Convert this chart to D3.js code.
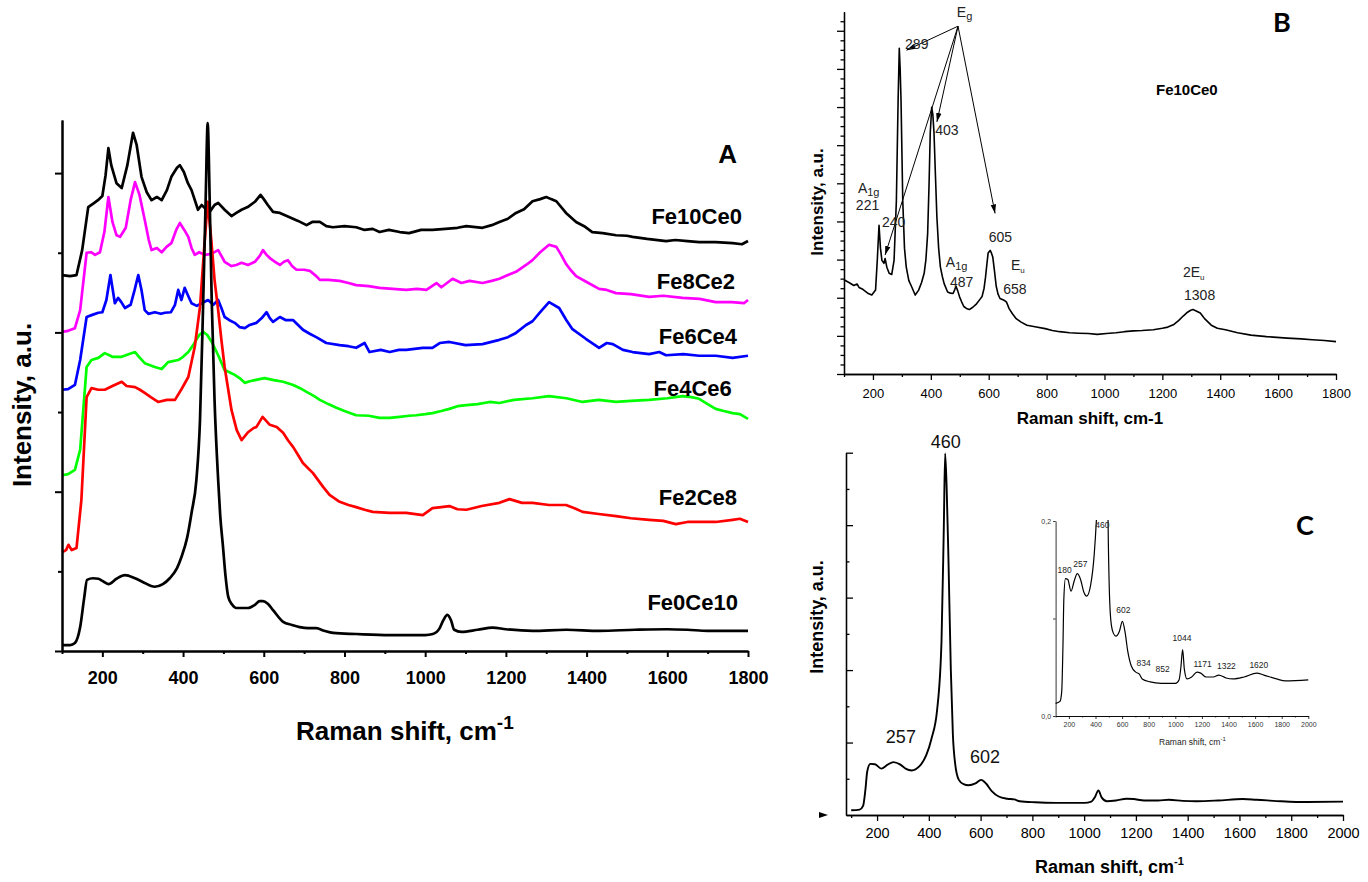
<!DOCTYPE html>
<html>
<head>
<meta charset="utf-8">
<script src="https://cdn.jsdelivr.net/npm/d3@7"></script>
<style>
body { margin: 0; background: #fff; }
svg { display: block; font-family: "Liberation Sans", Arial, sans-serif; }
</style>
</head>
<body>
<svg id="fig" width="1368" height="882"></svg>
<script>
// ---- panel A spectra: [Raman shift, intensity a.u.] ----
var fe10ce0 = [[100,70.8],[120,70.6],[136,70.8],[150,75.5],[165,83.6],[180,84.4],[189,84.9],[200,85.7],[208,89.6],[215,94.7],[222,91.5],[235,88.1],[248,87.2],[262,91.5],[276,97.6],[285,95.3],[297,89.3],[310,86.4],[322,84.9],[335,85.5],[347,84.9],[360,86.8],[371,89.3],[385,91.0],[392,91.5],[402,90.2],[412,88.1],[421,86.8],[437,83.1],[446,84.0],[454,83.4],[466,82.7],[478,84.0],[487,84.4],[503,83.1],[520,81.9],[532,82.5],[545,83.1],[560,83.6],[578,84.6],[592,85.9],[600,85.1],[610,84.0],[623,82.7],[640,82.5],[664,81.7],[685,81.0],[706,80.2],[720,80.8],[739,80.8],[755,80.0],[771,79.8],[800,80.0],[829,79.8],[850,79.3],[870,79.5],[887,78.9],[910,79.3],[937,78.9],[960,78.7],[990,79.3],[1018,79.3],[1050,79.5],[1080,79.7],[1102,80.0],[1142,79.7],[1165,80.2],[1184,80.8],[1205,81.4],[1225,82.5],[1245,83.2],[1266,84.7],[1285,85.1],[1300,85.5],[1312,85.1],[1325,84.7],[1349,82.5],[1374,80.8],[1394,80.0],[1414,78.9],[1440,78.7],[1473,78.3],[1500,78.2],[1514,78.0],[1550,77.6],[1597,77.2],[1620,77.4],[1650,77.2],[1679,77.0],[1720,77.0],[1762,76.8],[1785,76.6],[1800,77.2]];
var fe8ce2 = [[100,60.1],[115,60.3],[132,60.8],[145,64.2],[161,75.0],[172,75.1],[182,74.6],[194,75.1],[205,78.9],[215,85.5],[225,80.8],[235,78.3],[244,78.0],[258,79.7],[270,84.9],[281,88.3],[292,85.9],[305,81.2],[315,77.4],[322,75.5],[335,75.9],[347,75.1],[359,76.1],[371,76.8],[383,79.3],[392,80.6],[403,79.3],[413,78.0],[421,75.9],[429,74.6],[440,75.1],[454,74.6],[470,74.8],[487,75.5],[503,73.3],[520,72.5],[532,72.7],[545,73.1],[561,72.7],[578,73.3],[590,74.4],[598,75.5],[607,74.6],[615,74.0],[628,73.3],[640,72.7],[650,73.3],[660,73.6],[670,72.5],[681,71.8],[700,71.8],[714,71.6],[730,70.6],[739,69.9],[760,69.9],[788,69.7],[810,69.3],[829,68.9],[860,68.7],[887,68.4],[920,68.2],[953,68.0],[980,68.2],[1003,68.0],[1028,69.3],[1040,68.5],[1068,70.1],[1090,69.3],[1110,69.7],[1142,69.3],[1165,69.7],[1184,70.1],[1205,70.8],[1225,71.4],[1250,72.7],[1266,73.6],[1285,75.1],[1307,76.5],[1325,76.1],[1337,74.6],[1349,72.9],[1360,71.8],[1374,70.6],[1400,69.5],[1431,68.2],[1450,68.0],[1473,67.4],[1510,67.2],[1555,66.7],[1590,66.9],[1638,66.5],[1680,66.3],[1720,65.7],[1760,65.7],[1790,65.5],[1800,66.1]];
var fe6ce4 = [[100,49.2],[115,49.3],[132,50.1],[145,54.8],[161,62.9],[175,63.3],[190,63.7],[200,63.8],[210,66.1],[220,70.8],[231,65.5],[239,66.5],[247,65.7],[256,64.6],[270,65.2],[280,68.0],[289,70.8],[297,68.0],[305,64.2],[314,63.5],[330,63.8],[345,63.5],[355,63.7],[370,63.8],[380,65.2],[388,68.0],[396,66.1],[404,68.4],[412,67.0],[421,65.5],[434,65.0],[446,65.5],[462,66.1],[475,65.2],[487,66.1],[495,64.6],[503,62.9],[515,62.3],[528,61.8],[540,61.0],[553,60.8],[565,61.4],[582,61.8],[595,62.7],[607,63.8],[615,62.7],[623,62.0],[640,62.9],[655,62.3],[673,62.3],[685,61.4],[697,60.5],[715,59.7],[730,59.1],[755,58.0],[788,57.6],[810,57.4],[829,57.1],[850,58.0],[862,56.3],[890,56.7],[912,56.3],[935,56.7],[953,56.7],[994,57.1],[1018,57.1],[1036,58.0],[1060,58.2],[1100,57.6],[1142,57.8],[1184,58.6],[1205,59.1],[1225,59.9],[1250,61.4],[1266,62.1],[1285,63.8],[1307,65.7],[1332,64.6],[1350,62.3],[1365,60.6],[1398,58.8],[1431,57.1],[1450,58.0],[1465,57.8],[1490,56.7],[1514,56.3],[1555,55.9],[1580,56.3],[1597,55.7],[1640,55.9],[1679,55.6],[1720,55.6],[1762,55.2],[1800,55.6]];
var fe4ce6 = [[100,33.1],[115,33.3],[132,34.1],[145,37.9],[161,53.5],[173,54.8],[190,55.2],[206,56.1],[225,55.4],[248,55.4],[265,55.9],[281,56.3],[293,55.2],[305,54.2],[330,53.5],[347,53.1],[363,54.4],[388,54.8],[400,55.4],[413,56.3],[425,57.6],[440,59.5],[450,60.1],[460,59.5],[471,58.2],[487,55.7],[503,52.9],[515,52.5],[528,52.0],[540,51.4],[553,50.5],[565,50.8],[578,51.0],[602,51.4],[625,51.0],[648,50.7],[673,50.1],[690,49.5],[706,48.8],[725,48.0],[739,47.3],[760,46.5],[780,45.8],[800,45.2],[829,44.4],[860,44.3],[887,43.9],[912,43.9],[937,44.1],[960,44.3],[978,44.4],[1000,44.6],[1018,44.8],[1040,45.2],[1060,45.6],[1080,46.1],[1102,46.3],[1130,46.5],[1160,46.9],[1184,46.7],[1220,47.3],[1266,47.6],[1307,48.0],[1350,47.6],[1390,46.9],[1430,47.3],[1473,46.9],[1510,47.1],[1555,47.3],[1600,47.6],[1638,48.0],[1660,47.8],[1679,47.5],[1700,46.5],[1720,45.6],[1740,45.2],[1762,44.8],[1780,44.6],[1800,43.7]];
var fe2ce8 = [[100,18.6],[110,19.0],[116,20.0],[124,19.0],[136,19.4],[148,28.4],[161,47.8],[173,49.5],[190,49.2],[206,49.2],[225,49.9],[248,50.7],[260,49.9],[281,49.7],[293,49.2],[305,48.6],[320,47.8],[338,46.9],[360,47.3],[380,47.3],[396,49.3],[413,51.6],[429,57.3],[442,64.8],[452,75.5],[461,84.6],[470,77.4],[478,69.9],[487,64.2],[495,58.6],[503,53.5],[520,45.4],[533,41.6],[545,39.7],[561,41.2],[575,42.0],[582,42.2],[597,44.1],[615,42.6],[632,42.2],[648,41.1],[660,39.7],[673,38.4],[685,36.9],[697,35.4],[722,33.5],[747,30.9],[763,29.4],[788,28.1],[810,27.5],[829,27.1],[850,26.6],[870,26.2],[912,26.0],[953,26.0],[994,25.6],[1018,26.9],[1040,27.1],[1060,27.3],[1080,26.7],[1102,26.6],[1140,27.3],[1184,27.9],[1209,28.6],[1240,27.9],[1266,27.9],[1307,27.5],[1349,27.5],[1370,26.9],[1390,26.2],[1430,25.8],[1473,25.4],[1510,25.0],[1555,24.7],[1590,24.5],[1621,23.9],[1650,24.3],[1679,24.3],[1720,24.3],[1762,24.7],[1780,24.9],[1800,24.3]];
var fe0ce10 = [[100,1.1],[120,1.1],[132,1.5],[145,4.5],[155,10.0],[162,13.4],[177,13.7],[190,13.6],[200,13.2],[215,12.6],[235,13.6],[256,14.3],[281,13.7],[300,13.0],[330,12.1],[350,12.6],[367,13.7],[385,15.6],[396,17.7],[410,21.3],[421,26.0],[433,32.2],[442,43.5],[450,66.1],[456,84.9],[461,99.4],[466,84.9],[471,66.1],[478,47.3],[487,32.2],[492,25.6],[499,19.6],[505,14.3],[512,10.2],[522,8.7],[532,8.1],[561,8.1],[578,8.7],[590,9.4],[598,9.4],[610,8.9],[623,7.7],[648,5.5],[670,4.9],[689,4.5],[710,4.3],[730,4.3],[750,3.8],[772,3.4],[829,3.2],[912,3.0],[1000,3.0],[1019,3.2],[1036,4.3],[1045,5.8],[1055,6.8],[1064,5.8],[1072,4.0],[1090,3.6],[1130,4.0],[1167,4.4],[1200,4.1],[1266,3.8],[1350,4.0],[1431,3.8],[1520,4.0],[1600,4.1],[1650,4.0],[1700,3.8],[1800,3.8]];

// ---- panel B: Fe10Ce0 spectrum ----
var bSpectrum = [[100,247],[117,240],[134,232],[145,236],[152,227],[165,222],[184,211],[196,207],[209,220],[215,298],[221,390],[226,330],[231,298],[238,290],[242,303],[248,280],[256,264],[265,261],[273,298],[281,455],[287,719],[291,854],[294,800],[297,719],[303,455],[309,330],[315,281],[324,245],[333,230],[346,207],[358,220],[368,240],[377,264],[383,300],[389,368],[394,500],[398,632],[403,699],[407,680],[411,632],[416,520],[421,411],[427,330],[433,281],[440,255],[446,237],[458,215],[468,212],[477,211],[483,222],[487,230],[493,218],[499,203],[506,190],[514,177],[523,172],[533,169],[545,175],[558,184],[569,195],[577,203],[584,225],[589,254],[594,290],[598,317],[605,324],[609,318],[614,307],[620,270],[626,230],[632,210],[639,198],[651,194],[656,192],[661,189],[665,182],[670,172],[682,158],[695,145],[712,136],[732,128],[760,124],[795,119],[820,114],[845,111],[880,108],[910,107],[944,106],[975,104],[1007,106],[1040,108],[1069,111],[1100,113],[1130,114],[1169,116],[1200,120],[1219,123],[1240,130],[1256,140],[1272,152],[1287,162],[1298,167],[1306,169],[1315,166],[1331,160],[1345,146],[1369,128],[1390,120],[1418,116],[1460,108],[1506,102],[1560,98],[1631,94],[1680,92],[1718,90],[1760,88],[1800,85]];
var bPeakLabels = [["289",311,853],["403",415,626],["221",141,431],["240",231,386],["605",600,347],["487",466,229],["658",650,211],["1308",1275,194]];
var bModeLabels = [["A","1g",148,474],["A","1g",452,281],["E","u",677,273],["2E","u",1271,255],["E","g",490,935]];
var bArrowFrom = [494,912];
var bArrowTo = [[316,849],[242,312],[421,661],[622,421]];

// ---- panel C: Fe0Ce10 spectrum (inset uses the same values) ----
var cSpectrum = [[100,0.013],[133,0.015],[146,0.025],[155,0.07],[162,0.12],[174,0.141],[192,0.140],[216,0.128],[241,0.139],[263,0.146],[290,0.139],[310,0.128],[334,0.123],[363,0.134],[390,0.165],[410,0.21],[432,0.29],[449,0.48],[458,0.80],[463,0.998],[469,0.90],[476,0.70],[485,0.40],[493,0.22],[502,0.14],[516,0.097],[534,0.085],[553,0.082],[580,0.087],[602,0.097],[621,0.087],[643,0.066],[670,0.051],[703,0.045],[730,0.043],[751,0.038],[811,0.035],[893,0.0335],[1001,0.0335],[1028,0.037],[1042,0.05],[1055,0.068],[1068,0.048],[1088,0.038],[1123,0.040],[1164,0.045],[1191,0.044],[1232,0.040],[1286,0.040],[1327,0.042],[1381,0.039],[1435,0.038],[1517,0.040],[1612,0.044],[1666,0.042],[1761,0.038],[1829,0.036],[2000,0.037]];
var cPeakLabels = [["257",234,0.198],["602",559,0.1425]];
var insetLabels = [["180",114,0.147],["257",233,0.1525],["460",398,0.1925],["602",556,0.106],["834",708,0.0513],["852",852,0.0455],["1044",979,0.077],["1171",1137,0.050],["1322",1313,0.048],["1620",1557,0.049]];

var svg = d3.select("#fig");
var sans = "'Liberation Sans', Arial, sans-serif";
var intFmt = d3.format("d");

function drawAxis(g, axis, w) {
    g.call(axis);
    g.attr("font-family", sans).attr("font-size", null);
    g.selectAll("path, line").attr("stroke", "#000").attr("stroke-width", w);
    return g;
}

function makeLine(x, y, curve) {
    return d3.line().x(d => x(d[0])).y(d => y(d[1])).curve(curve || d3.curveLinear);
}

//==================== PANEL A ====================
var xA = d3.scaleLinear().domain([100, 1800]).range([62, 748]);
var yA = d3.scaleLinear().domain([0, 100]).range([651, 120]);
var gA = svg.append("g");

var aSeries = [
    {name: "Fe10Ce0", data: fe10ce0, color: "#000000", lx: 1785, ly: 80.4, curve: d3.curveLinear},
    {name: "Fe8Ce2", data: fe8ce2, color: "#ff00ff", lx: 1768, ly: 68.2, curve: d3.curveLinear},
    {name: "Fe6Ce4", data: fe6ce4, color: "#0000ff", lx: 1773, ly: 57.8, curve: d3.curveLinear},
    {name: "Fe4Ce6", data: fe4ce6, color: "#00ff00", lx: 1760, ly: 48.0, curve: d3.curveLinear},
    {name: "Fe2Ce8", data: fe2ce8, color: "#ff0000", lx: 1773, ly: 27.5, curve: d3.curveLinear},
    {name: "Fe0Ce10", data: fe0ce10, color: "#000000", lx: 1775, ly: 7.7, curve: d3.curveMonotoneX}
];

aSeries.forEach(s => {
    gA.append("path")
        .attr("d", makeLine(xA, yA, s.curve)(s.data))
        .attr("fill", "none")
        .attr("stroke", s.color)
        .attr("stroke-width", 2.7)
        .attr("stroke-linejoin", "round");
    gA.append("text")
        .attr("x", xA(s.lx)).attr("y", yA(s.ly))
        .attr("text-anchor", "end")
        .attr("font-size", 22).attr("font-weight", "bold")
        .text(s.name);
});

drawAxis(gA.append("g").attr("transform", "translate(0,651)"),
    d3.axisBottom(xA).tickValues(d3.range(100, 1801, 200)).tickSize(3).tickSizeOuter(0).tickFormat(""), 2);
drawAxis(gA.append("g").attr("transform", "translate(0,651)"),
    d3.axisBottom(xA).tickValues(d3.range(200, 1801, 200)).tickSize(6).tickSizeOuter(0).tickPadding(14).tickFormat(intFmt), 2)
    .selectAll("text").attr("font-size", 18).attr("font-weight", "bold");
drawAxis(gA.append("g").attr("transform", "translate(62,0)"),
    d3.axisLeft(yA).tickValues([15, 45, 75]).tickSize(4).tickSizeOuter(0).tickFormat(""), 2);
drawAxis(gA.append("g").attr("transform", "translate(62,0)"),
    d3.axisLeft(yA).tickValues([0, 30, 60, 90]).tickSize(7).tickSizeOuter(0).tickFormat(""), 2);

gA.append("text").attr("x", xA(1773)).attr("y", yA(91.9))
    .attr("text-anchor", "end").attr("font-size", 26).attr("font-weight", "bold").text("A");

gA.append("text").attr("transform", "translate(31,405) rotate(-90)")
    .attr("text-anchor", "middle").attr("font-size", 26).attr("font-weight", "bold")
    .text("Intensity, a.u.");

var xlabA = gA.append("text").attr("x", 296).attr("y", 740)
    .attr("font-size", 26).attr("font-weight", "bold");
xlabA.append("tspan").text("Raman shift, cm");
xlabA.append("tspan").attr("dy", -11).attr("font-size", 19).text("-1");

//==================== PANEL B ====================
var xB = d3.scaleLinear().domain([100, 1800]).range([844, 1336]);
var yB = d3.scaleLinear().domain([0, 950]).range([374, 11.7]);
var gB = svg.append("g");

var defs = svg.append("defs");
defs.append("marker").attr("id", "arrow")
    .attr("viewBox", "0 0 10 6").attr("refX", 10).attr("refY", 3)
    .attr("markerWidth", 9).attr("markerHeight", 6)
    .attr("markerUnits", "userSpaceOnUse").attr("orient", "auto")
    .append("path").attr("d", "M0,0 L10,3 L0,6 Z").attr("fill", "#000");

gB.append("path")
    .attr("d", makeLine(xB, yB)(bSpectrum))
    .attr("fill", "none").attr("stroke", "#000").attr("stroke-width", 1.6)
    .attr("stroke-linejoin", "round");

drawAxis(gB.append("g").attr("transform", "translate(0,374)"),
    d3.axisBottom(xB).tickValues(d3.range(100, 1801, 200)).tickSize(3).tickSizeOuter(0).tickFormat(""), 1.3);
drawAxis(gB.append("g").attr("transform", "translate(0,374)"),
    d3.axisBottom(xB).tickValues(d3.range(200, 1801, 200)).tickSize(6).tickSizeOuter(0).tickPadding(9).tickFormat(intFmt), 1.3)
    .selectAll("text").attr("font-size", 13);
drawAxis(gB.append("g").attr("transform", "translate(844,0)"),
    d3.axisLeft(yB).tickValues(d3.range(25, 950, 25).filter(v => v % 100)).tickSize(3.5).tickSizeOuter(0).tickFormat(""), 1.3);
drawAxis(gB.append("g").attr("transform", "translate(844,0)"),
    d3.axisLeft(yB).tickValues(d3.range(0, 901, 100)).tickSize(7).tickSizeOuter(0).tickFormat(""), 1.3);

bArrowTo.forEach(p => {
    gB.append("line")
        .attr("x1", xB(bArrowFrom[0])).attr("y1", yB(bArrowFrom[1]))
        .attr("x2", xB(p[0])).attr("y2", yB(p[1]))
        .attr("stroke", "#000").attr("stroke-width", 1)
        .attr("marker-end", "url(#arrow)");
});

bPeakLabels.forEach(l => {
    gB.append("text").attr("x", xB(l[1])).attr("y", yB(l[2]))
        .attr("font-size", 14).attr("fill", "#222").text(l[0]);
});

bModeLabels.forEach(l => {
    var t = gB.append("text").attr("x", xB(l[2])).attr("y", yB(l[3]))
        .attr("font-size", 14).attr("fill", "#222");
    t.append("tspan").text(l[0]);
    t.append("tspan").attr("dy", 3).attr("font-size", l[1] === "u" ? 8 : 11).text(l[1]);
});

gB.append("text").attr("x", xB(1178)).attr("y", yB(731))
    .attr("font-size", 15).attr("font-weight", "bold").text("Fe10Ce0");

gB.append("text").attr("x", 1273).attr("y", 32)
    .attr("font-family", "Lato, 'Open Sans', sans-serif")
    .attr("font-size", 27).attr("font-weight", "bold").text("B");

gB.append("text").attr("transform", "translate(823,202) rotate(-90)")
    .attr("text-anchor", "middle").attr("font-size", 17).attr("font-weight", "bold")
    .text("Intensity, a.u.");

gB.append("text").attr("x", 1090).attr("y", 424)
    .attr("text-anchor", "middle").attr("font-size", 17).attr("font-weight", "bold")
    .text("Raman shift, cm-1");

//==================== PANEL C ====================
var xC = d3.scaleLinear().domain([80, 2000]).range([846, 1343]);
var yC = d3.scaleLinear().domain([0, 1]).range([815, 452.7]);
var gC = svg.append("g");

gC.append("path")
    .attr("d", makeLine(xC, yC, d3.curveMonotoneX)(cSpectrum))
    .attr("fill", "none").attr("stroke", "#000").attr("stroke-width", 1.9);

drawAxis(gC.append("g").attr("transform", "translate(0,815)"),
    d3.axisBottom(xC).tickValues(d3.range(100, 2001, 200)).tickSize(3).tickSizeOuter(0).tickFormat(""), 1.3);
drawAxis(gC.append("g").attr("transform", "translate(0,815)"),
    d3.axisBottom(xC).tickValues(d3.range(200, 2001, 200)).tickSize(6).tickSizeOuter(0).tickPadding(7).tickFormat(intFmt), 1.3)
    .selectAll("text").attr("font-size", 14.5);
drawAxis(gC.append("g").attr("transform", "translate(846,0)"),
    d3.axisRight(yC).tickValues([0.1, 0.3, 0.5, 0.7, 0.9]).tickSize(3.5).tickSizeOuter(0).tickFormat(""), 1.3);
drawAxis(gC.append("g").attr("transform", "translate(846,0)"),
    d3.axisRight(yC).tickValues([0.2, 0.4, 0.6, 0.8, 1.0]).tickSize(7).tickSizeOuter(0).tickFormat(""), 1.3);

// small marker left of the origin
gC.append("path").attr("d", "M819,812 L828,815 L819,818 Z").attr("fill", "#000");

cPeakLabels.forEach(l => {
    gC.append("text").attr("x", xC(l[1])).attr("y", yC(l[2]))
        .attr("font-size", 18).attr("fill", "#111").text(l[0]);
});
gC.append("text").attr("x", xC(465)).attr("y", yC(1.012))
    .attr("text-anchor", "middle").attr("font-size", 18).attr("fill", "#111").text("460");

gC.append("text").attr("x", 1296).attr("y", 535)
    .attr("font-family", "Lato, 'Open Sans', sans-serif")
    .attr("font-size", 27).attr("font-weight", "bold").text("C");

gC.append("text").attr("transform", "translate(823,617) rotate(-90)")
    .attr("text-anchor", "middle").attr("font-size", 18).attr("font-weight", "bold")
    .text("Intensity, a.u.");

var xlabC = gC.append("text").attr("x", 1035).attr("y", 873)
    .attr("font-size", 18).attr("font-weight", "bold");
xlabC.append("tspan").text("Raman shift, cm");
xlabC.append("tspan").attr("dy", -8).attr("font-size", 11).text("-1");

//---- inset ----
var xI = d3.scaleLinear().domain([100, 2000]).range([1055.6, 1308.3]);
var yI = d3.scaleLinear().domain([0, 0.2]).range([716, 521]);
var gI = svg.append("g");

defs.append("clipPath").attr("id", "insetClip")
    .append("rect").attr("x", 1055).attr("y", 520).attr("width", 256).attr("height", 198);

gI.append("path")
    .attr("clip-path", "url(#insetClip)")
    .attr("d", makeLine(xI, yI, d3.curveMonotoneX)(cSpectrum))
    .attr("fill", "none").attr("stroke", "#000").attr("stroke-width", 1.2);

drawAxis(gI.append("g").attr("transform", "translate(0,716)"),
    d3.axisBottom(xI).tickValues(d3.range(100, 2001, 200)).tickSize(1.5).tickSizeOuter(0).tickFormat(""), 0.8);
drawAxis(gI.append("g").attr("transform", "translate(0,716)"),
    d3.axisBottom(xI).tickValues(d3.range(200, 2001, 200)).tickSize(3).tickSizeOuter(0).tickPadding(3).tickFormat(intFmt), 0.8)
    .selectAll("text").attr("font-size", 7).attr("fill", "#333");
drawAxis(gI.append("g").attr("transform", "translate(1055.6,0)"),
    d3.axisLeft(yI).tickValues([0, 0.1, 0.2]).tickSize(2.5).tickSizeOuter(0).tickPadding(2)
        .tickFormat(d => d === 0.1 ? "" : d3.format(".1f")(d).replace(".", ",")), 0.8)
    .selectAll("text").attr("font-size", 7).attr("fill", "#333");

insetLabels.forEach(l => {
    gI.append("text").attr("x", xI(l[1])).attr("y", yI(l[2]))
        .attr("font-size", 8.5).attr("fill", "#222").text(l[0]);
});

var xlabI = gI.append("text").attr("x", 1159).attr("y", 745)
    .attr("font-size", 8.5).attr("fill", "#222");
xlabI.append("tspan").text("Raman shift, cm");
xlabI.append("tspan").attr("dy", -4).attr("font-size", 6).text("-1");
</script>
</body>
</html>
